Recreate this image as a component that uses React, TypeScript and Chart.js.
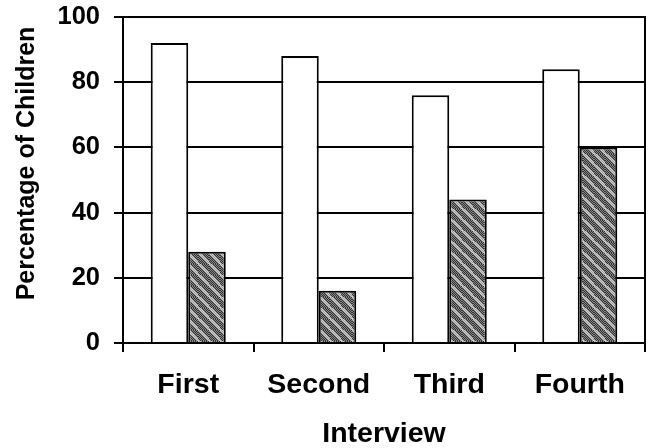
import React, { useEffect, useRef } from "react";
import { Chart, registerables } from "chart.js";

Chart.register(...registerables);

const categories = ["First", "Second", "Third", "Fourth"];
const seriesWhite = [92, 88, 76, 84];
const seriesHatched = [28, 16, 44, 60];
const yTickValues = [0, 20, 40, 60, 80, 100];
const xTitle = "Interview";
const yTitle = "Percentage of Children";

const FONT = "'Liberation Sans', Arial, Helvetica, sans-serif";

function makeHatch(): CanvasPattern | string {
  const c = document.createElement("canvas");
  const s = 11;
  c.width = s;
  c.height = s;
  const g = c.getContext("2d");
  if (!g) return "#777";
  for (let y = 0; y < s; y++) {
    for (let x = 0; x < s; x++) {
      const d = (((x - y) % s) + s) % s;
      const stripe = d < 3;
      const checker = (x + y) % 2 === 0;
      g.fillStyle = stripe
        ? checker ? "#d0d0d0" : "#a0a0a0"
        : checker ? "#303030" : "#888888";
      g.fillRect(x, y, 1, 1);
    }
  }
  return g.createPattern(c, "repeat") || "#777";
}

const decorPlugin = {
  id: "decor",
  afterDraw(chart: any) {
    const { ctx, chartArea } = chart;
    ctx.save();
    ctx.strokeStyle = "#000";
    ctx.lineWidth = 2;
    ctx.beginPath();
    ctx.moveTo(chartArea.right, chartArea.top - 1);
    ctx.lineTo(chartArea.right, chartArea.bottom + 9);
    ctx.stroke();

    ctx.fillStyle = "#000";
    ctx.font = `bold 28.5px ${FONT}`;
    ctx.textAlign = "center";
    ctx.textBaseline = "alphabetic";
    ctx.fillText(xTitle, (chartArea.left + chartArea.right) / 2, 442);

    ctx.font = `bold 25px ${FONT}`;
    ctx.translate(34, 163.5);
    ctx.rotate(-Math.PI / 2);
    ctx.fillText(yTitle, 0, 0);
    ctx.restore();
  },
};

export default function App() {
  const ref = useRef<HTMLCanvasElement | null>(null);
  useEffect(() => {
    if (!ref.current) return;
    const hatch = makeHatch();
    const chart = new Chart(ref.current, {
      type: "bar",
      data: {
        labels: categories,
        datasets: [
          {
            data: seriesWhite,
            backgroundColor: "#ffffff",
            borderColor: "#000000",
            borderWidth: 2,
            categoryPercentage: 0.575,
            barPercentage: 1,
          },
          {
            data: seriesHatched,
            backgroundColor: hatch as any,
            borderColor: "#000000",
            borderWidth: 2,
            categoryPercentage: 0.575,
            barPercentage: 1,
          },
        ],
      },
      options: {
        animation: false,
        responsive: false,
        maintainAspectRatio: false,
        layout: { padding: { top: 17, right: 6, left: 0, bottom: 0 } },
        plugins: { legend: { display: false }, tooltip: { enabled: false } },
        scales: {
          x: {
            grid: {
              drawOnChartArea: false,
              drawTicks: true,
              tickLength: 9,
              color: "#000",
              lineWidth: 2,
              offset: true,
            },
            border: { display: true, color: "#000", width: 2 },
            ticks: {
              color: "#000",
              padding: 16,
              font: { family: FONT, size: 28.5, weight: "bold" },
            },
            afterFit: (s: any) => {
              s.height = 105;
              s.paddingLeft = 0;
              s.paddingRight = 0;
            },
          },
          y: {
            min: 0,
            max: 100,
            afterBuildTicks: (s: any) => {
              s.ticks = yTickValues.map((v) => ({ value: v }));
            },
            grid: { color: "#000", lineWidth: 2, tickLength: 9, drawTicks: true },
            border: { display: true, color: "#000", width: 2 },
            ticks: {
              color: "#000",
              padding: 14,
              font: { family: FONT, size: 25.5, weight: "bold" },
            },
            afterFit: (s: any) => {
              s.width = 123;
              s.paddingTop = 0;
              s.paddingBottom = 0;
            },
          },
        },
      },
      plugins: [decorPlugin],
    });
    return () => chart.destroy();
  }, []);
  return (
    <div style={{ position: "fixed", left: 0, top: 0, width: 651, height: 448, background: "#fff" }}>
      <canvas ref={ref} width={651} height={448} />
    </div>
  );
}
